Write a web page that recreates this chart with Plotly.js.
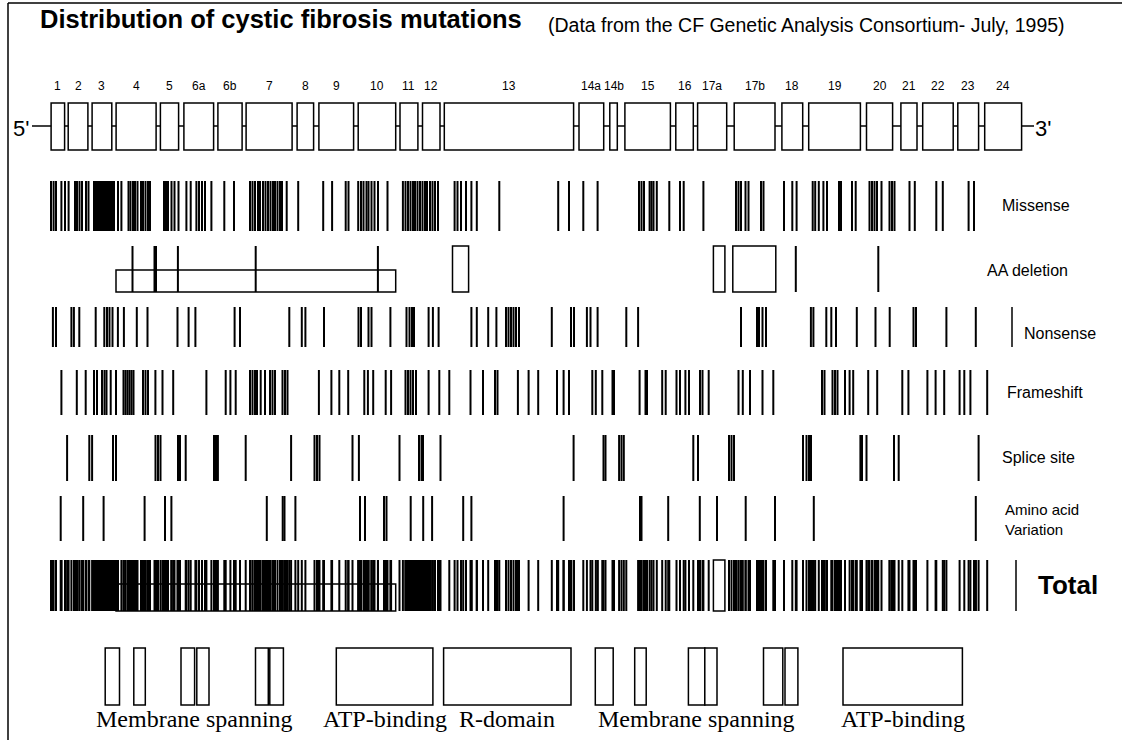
<!DOCTYPE html>
<html><head><meta charset="utf-8">
<script src="https://cdn.plot.ly/plotly-3.0.1.min.js"></script>
<style>html,body{margin:0;padding:0;background:#fff}#chart{width:1122px;height:740px}</style>
</head><body><div id="chart"></div>
<script>
// ---- DATA (positions along the CFTR gene diagram, in diagram units) ----
const exonLabels = ['1','2','3','4','5','6a','6b','7','8','9','10','11','12','13','14a','14b','15','16','17a','17b','18','19','20','21','22','23','24'];
const exonStart = [51.1,68.2,92.1,116.1,160.4,183.9,217.9,246.1,297.1,318.9,358.2,400,422.5,444.3,579,609.8,624.9,675.8,697.6,734.2,781.9,808.7,866.5,900.9,922.7,957.8,984.7];
const exonEnd   = [64.6,87.9,111.8,156.1,178.6,213.6,242.1,292.1,313.6,353.6,395.7,417.9,440,573.6,603.7,617.3,670.4,693.3,726.7,775,802.7,860.4,892.6,917,953.2,978.6,1021.6];

const missense = [51,53.6,56,61.4,65,68.6,75,77,79.5,82,86,88.5,94,96,98,100,102,104,106,108,110,112,114,118,121.4,128.5,130.5,133,135,137.5,141,143,145.5,148,150,164,166,168,171.5,174.5,178.5,186.4,190.7,196.4,199,202,205,211.4,224.3,234,250,252.5,255,258,260,263,265.5,268,270.5,273,275,277.5,280,282,286.7,298.2,323.2,332.1,345.7,348.5,358.2,361,363.5,366.5,368.5,371.5,374.5,378,387.5,402.9,405.5,408,410.5,413,415,417.5,420,422.5,425,427,430,432.5,435,438,454.6,457.5,461,466,471.4,476.8,499.3,558.2,569,583.3,597.6,639,641.5,644,649.6,651.5,653.5,656.8,669.3,680,683.7,703.4,736,738.5,741,745.5,748.5,761,763.5,784,792.3,796.6,812.7,815.2,818.8,823.4,827,839,841,852,855.7,869.5,872,874.5,877,881.5,889.5,892,894.5,909.5,914.8,936.3,942.8,968.6,974];
const aaDeletionSites = [132.5,154.5,156,177.9,255.7,377.9,795.8,878.3];
const aaDeletionLongStart = [116];
const aaDeletionLongEnd = [395.7];
const aaDeletionBlockStart = [452.5,713.4,732.8];
const aaDeletionBlockEnd = [468.6,724.9,775.8];
const nonsense = [52.9,56,71.4,73.9,79.3,95.7,104.3,107,109.5,112.5,117.9,123.9,136.8,147.5,177.5,188.6,195.4,234.6,240,289.3,301.8,305.4,324,358.5,361,368.5,371.5,390.4,406.5,409.5,412,414,428.6,432.9,438.6,471.4,476.8,488.2,496.4,506,508.5,511,513.5,516,519,551.8,571,574,586.9,590.5,597.6,626.3,638.1,741,757,759,762.5,766,810.9,813.4,826.3,831.3,836,856.8,875.5,889.7,913.5,916,946.4,975.8];
const frameshift = [61.4,76.8,85.7,94,97,102,104.5,106.5,110.7,116,123.5,125.5,127.5,129.5,131.5,133.5,143,145.5,148,155.4,162.5,173.2,206.4,225.7,230.4,235.7,250,252.5,255,257,260.7,265,270,272.5,275,282.5,285,287.5,318.9,331.4,339.3,348.2,364.3,367.9,373.2,385.7,391.1,405.5,408,410.5,413,416,428.6,439.3,449.3,470.5,483,495,497.5,517.9,528.6,538.2,557,563.6,569,592.3,595.8,602.3,612.5,614,639.6,645.5,647,662.2,665.7,676.5,680,685.4,689,700,702.5,708.7,738.5,742.8,750,762.5,773.3,822,824.5,832.5,835,837.5,845,849.6,853.2,868.2,877.2,902.3,908.4,927.4,935.6,944.2,959.6,964.3,970.4,987.2];
const spliceSite = [67.1,89.3,92.1,113,116,155.5,158,160.5,178,180,185.7,214,216,217.9,245.7,291.1,314.5,317,319.5,352.5,358.9,399.5,419,421.5,423,440.5,573.6,603.5,605.5,619.1,621.5,623.8,693.3,698,729,731.5,734,803,806.5,809,811,860.4,862,866.5,894,898.7,978.6];
const aaVariation = [60.7,83.2,103.6,144.6,165,171.4,266.8,282.7,284.5,295.4,360,365,384,386.5,410.7,423.2,432.1,463.2,471.4,563.6,640,641.5,668.2,699.8,717,745.7,775,813.8,975.8];

const domainNames = ['Membrane spanning','ATP-binding','R-domain','Membrane spanning','ATP-binding'];
const domainStart = [105.2,133.8,181,196.8,255.5,269.8,336.3,443.6,595.3,634.7,688.4,704.8,763.5,785,843];
const domainEnd   = [119.5,145.3,194.6,209,268.3,283.4,432.9,571,613.2,646.2,704.8,717,782.8,797.9,962.4];
const domainGroup = [0,0,0,0,0,0,1,2,3,3,3,3,3,3,4];

const rowLabels = ['Missense','AA deletion','Nonsense','Frameshift','Splice site','Amino acid<br>Variation','Total'];
const titleText = 'Distribution of cystic fibrosis mutations';
const subtitleText = '(Data from the CF Genetic Analysis Consortium- July, 1995)';

// ---- LAYOUT CONFIG ----
const rows = {
  missense:[181,231], aa:[246,292], nonsense:[307,347], frameshift:[370,415],
  splice:[435,481], aav:[496,541], total:[560,611]
};
const aaBoxTop = 270;
const exonY = [103,150], backboneY = 126;
const domY = [648,705];

function ticks(pos, yr, w){
  const x=[], y=[];
  pos.forEach(p=>{x.push(p,p,null); y.push(yr[0],yr[1],null);});
  return {type:'scatter',mode:'lines',x,y,line:{color:'#000',width:w||2},hoverinfo:'skip',showlegend:false};
}
const totalPos = [].concat(missense,aaDeletionSites,nonsense,frameshift,spliceSite,aaVariation);

const traces = [
  {type:'scatter',mode:'lines',x:[32,1034],y:[backboneY,backboneY],line:{color:'#000',width:1.5},hoverinfo:'skip'},
  ticks(missense, rows.missense),
  ticks(aaDeletionSites, rows.aa),
  ticks(nonsense, rows.nonsense),
  ticks(frameshift, rows.frameshift),
  ticks(spliceSite, rows.splice),
  ticks(aaVariation, rows.aav),
  ticks(totalPos, rows.total),
  ticks([1012], rows.nonsense, 1.5),
  ticks([1016], rows.total, 1.5)
];

const shapes = [];
function rect(x0,x1,y0,y1,fill,w){
  shapes.push({type:'rect',xref:'x',yref:'y',x0,x1,y0,y1,line:{color:'#000',width:w||1.5},fillcolor:fill||'rgba(0,0,0,0)',layer:'above'});
}
exonStart.forEach((s,i)=>rect(s,exonEnd[i],exonY[0],exonY[1],'#fff'));
aaDeletionLongStart.forEach((s,i)=>{rect(s,aaDeletionLongEnd[i],aaBoxTop,rows.aa[1]); rect(s,aaDeletionLongEnd[i],aaBoxTop+(rows.total[0]-rows.aa[0]),rows.total[1]);});
aaDeletionBlockStart.forEach((s,i)=>rect(s,aaDeletionBlockEnd[i],rows.aa[0],rows.aa[1]));
rect(aaDeletionBlockStart[1],aaDeletionBlockEnd[1],rows.total[0],rows.total[1],'#fff');
domainStart.forEach((s,i)=>rect(s,domainEnd[i],domY[0],domY[1],'#fff'));
// frame
shapes.push({type:'line',xref:'x',yref:'y',x0:8,x1:8,y0:3,y1:740,line:{color:'#000',width:1.5}});
shapes.push({type:'line',xref:'x',yref:'y',x0:8,x1:1122,y0:3,y1:3,line:{color:'#000',width:1.5}});

const sans = 'Liberation Sans, Arial, sans-serif';
const ann = [];
function txt(x,y,text,size,opts){
  ann.push(Object.assign({xref:'x',yref:'y',x,y,text,showarrow:false,xanchor:'left',yanchor:'middle',
    font:{family:sans,size,color:'#000'}},opts||{}));
}
txt(38,19,titleText,25.5,{font:{family:sans,size:25.5,color:'#000',weight:'bold'}});
txt(546,25,subtitleText,19.5,{font:{family:sans,size:19.5,color:'#000'}});
exonLabels.forEach((l,i)=>txt((exonStart[i]+exonEnd[i])/2,86,l,12,{xanchor:'center'}));
txt(11,128,"5'",22);
txt(1033,128,"3'",22);
const labelX = [1000,985,1022,1005,1000,1003,1036];
const labelY = [205,270,333,392,457,519,585];
rowLabels.forEach((l,i)=>{
  if(l==='Total') txt(labelX[i],labelY[i],l,26,{font:{family:sans,size:26,color:'#000',weight:'bold'}});
  else if(l.indexOf('<br>')>=0) txt(labelX[i],labelY[i],l,15,{align:'left',font:{family:sans,size:15,color:'#000'}});
  else txt(labelX[i],labelY[i],l,16);
});
domainNames.forEach((n,g)=>{
  let lo=1e9,hi=-1e9;
  domainGroup.forEach((gg,i)=>{if(gg===g){lo=Math.min(lo,domainStart[i]);hi=Math.max(hi,domainEnd[i]);}});
  txt((lo+hi)/2,719,n,24,{xanchor:'center',font:{family:'Liberation Serif, Times New Roman, serif',size:24,color:'#000'}});
});

const layout = {
  width:1122,height:740,margin:{l:0,r:0,t:0,b:0},
  paper_bgcolor:'#fff',plot_bgcolor:'#fff',showlegend:false,
  xaxis:{range:[0,1122],visible:false,fixedrange:true},
  yaxis:{range:[740,0],visible:false,fixedrange:true},
  shapes, annotations:ann
};
Plotly.newPlot('chart',traces,layout,{staticPlot:true,displayModeBar:false});
</script></body></html>
